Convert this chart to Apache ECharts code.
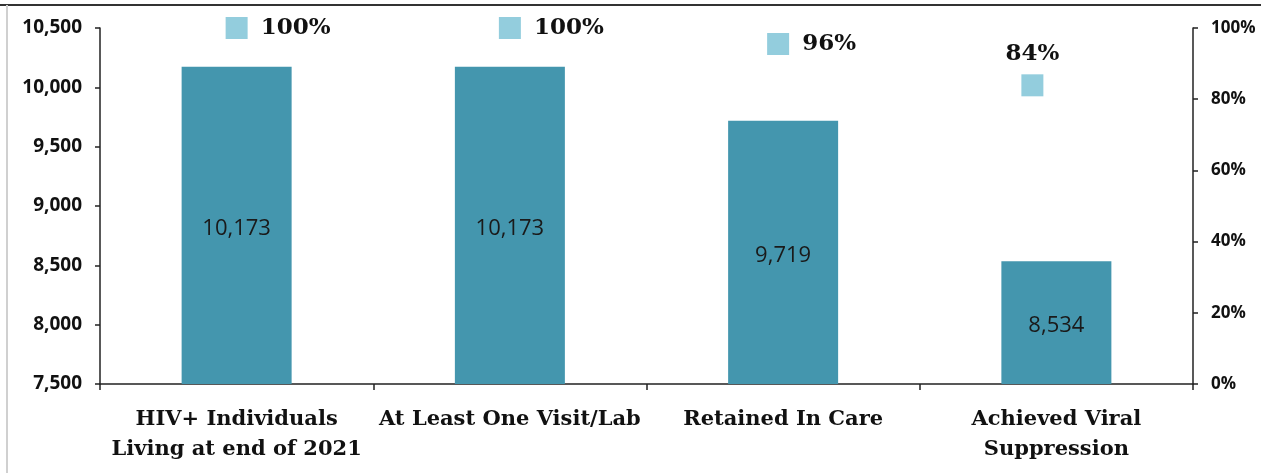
<!DOCTYPE html>
<html>
<head>
<meta charset="utf-8">
<script src="https://cdn.jsdelivr.net/npm/echarts@6/dist/echarts.min.js"></script>
<style>
html,body{margin:0;padding:0;background:#fff;}
#chart{width:1261px;height:473px;}
</style>
</head>
<body>
<div id="chart"></div>
<script>
var categories = ['HIV+ Individuals\nLiving at end of 2021', 'At Least One Visit/Lab', 'Retained In Care', 'Achieved Viral\nSuppression'];
var counts = [10173, 10173, 9719, 8534];
var percents = [1.0, 1.0, 0.955, 0.839];
var leftTicks = [7500, 8000, 8500, 9000, 9500, 10000, 10500];
var rightTicks = [0, 0.2, 0.4, 0.6, 0.8, 1.0];

var chart = echarts.init(document.getElementById('chart'));
var markerOffsets = [[0,0],[0,0],[-5,0],[-24,0]];
var option = {
  animation: false,
  backgroundColor: '#fff',
  graphic: [
    {type:'line', shape:{x1:0,y1:5,x2:1261,y2:5}, style:{stroke:'#333',lineWidth:2}},
    {type:'line', shape:{x1:7,y1:5,x2:7,y2:473}, style:{stroke:'#d0d0d0',lineWidth:2}}
  ],
  grid: {left:100, right:68, top:28, bottom:89},
  xAxis: {
    type:'category',
    data: categories,
    axisLine:{lineStyle:{color:'#222',width:1.5}},
    axisTick:{show:true, alignWithLabel:false, length:6, lineStyle:{color:'#222',width:1.5}},
    axisLabel:{interval:0, margin:21, lineHeight:30, fontFamily:'DejaVu Serif', fontWeight:'bold', fontSize:21, color:'#111'}
  },
  yAxis: [
    {
      type:'value', min:leftTicks[0], max:leftTicks[leftTicks.length-1], interval:500,
      splitLine:{show:false},
      axisLine:{show:true, lineStyle:{color:'#222',width:1.5}},
      axisTick:{show:true, length:5, lineStyle:{color:'#222',width:1.5}},
      axisLabel:{fontFamily:'Open Sans', fontWeight:'bold', fontSize:19, color:'#111', margin:18,
        formatter:function(v){return v.toLocaleString('en-US');}}
    },
    {
      type:'value', min:rightTicks[0], max:rightTicks[rightTicks.length-1], interval:0.2,
      position:'right',
      splitLine:{show:false},
      axisLine:{show:true, lineStyle:{color:'#222',width:1.5}},
      axisTick:{show:true, length:5, lineStyle:{color:'#222',width:1.5}},
      axisLabel:{fontFamily:'Open Sans', fontWeight:'bold', fontSize:17, color:'#111', margin:18,
        formatter:function(v){return Math.round(v*100)+'%';}}
    }
  ],
  series: [
    {
      type:'bar', yAxisIndex:0, data:counts, barWidth:110,
      itemStyle:{color:'#4496ae'},
      label:{show:true, position:'inside', offset:[0,3], fontFamily:'Open Sans', fontSize:22, color:'#1a1a1a',
        formatter:function(p){return p.value.toLocaleString('en-US');}}
    },
    {
      type:'scatter', yAxisIndex:1,
      data: percents.map(function(v,i){
        var item = {value:v, symbolOffset:markerOffsets[i]};
        if(i===3){ item.label = {position:'top', distance:9}; }
        return item;
      }),
      symbol:'rect', symbolSize:22,
      itemStyle:{color:'#93cddd', opacity:1},
      label:{show:true, position:'right', distance:13, fontFamily:'DejaVu Serif', fontWeight:'bold', fontSize:23, color:'#111',
        formatter:function(p){return Math.round(p.value*100)+'%';}},
      z:5
    }
  ]
};
chart.setOption(option);
</script>
</body>
</html>
